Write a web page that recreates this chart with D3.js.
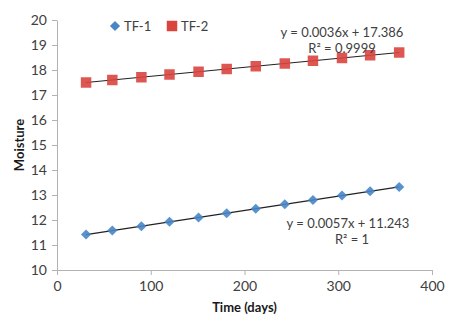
<!DOCTYPE html>
<html>
<head>
<meta charset="utf-8">
<script src="https://cdn.jsdelivr.net/npm/d3@7"></script>
<style>
  body { margin: 0; background: #fff; }
  svg text { font-family: Lato, "Open Sans", sans-serif; }
</style>
</head>
<body>
<div id="root"></div>
<script>
const days = [31, 59, 90, 120, 151, 181, 212, 243, 273, 304, 334, 365];
const tf1 = [11.42, 11.58, 11.75, 11.93, 12.10, 12.27, 12.45, 12.63, 12.80, 12.98, 13.15, 13.32];
const tf2 = [17.50, 17.60, 17.71, 17.82, 17.93, 18.04, 18.15, 18.26, 18.37, 18.48, 18.59, 18.70];
const xTicks = [0, 100, 200, 300, 400];
const yTicks = [10, 11, 12, 13, 14, 15, 16, 17, 18, 19, 20];

const width = 459;
const height = 324;
const margin = { top: 20, left: 57, right: 27, bottom: 54 };

const svg = d3.select("#root")
  .append("svg")
  .attr("width", width)
  .attr("height", height);

const x = d3.scaleLinear().domain([0, 400]).range([margin.left, width - margin.right]);
const y = d3.scaleLinear().domain([10, 20]).range([height - margin.bottom, margin.top]);

// Axes
const xAxis = d3.axisBottom(x).tickValues(xTicks).tickSize(5).tickSizeOuter(0).tickPadding(6);
const yAxis = d3.axisLeft(y).tickValues(yTicks).tickSize(5).tickSizeOuter(0).tickPadding(5);

const gx = svg.append("g")
  .attr("transform", `translate(0,${y(10)})`)
  .call(xAxis);
const gy = svg.append("g")
  .attr("transform", `translate(${x(0)},0)`)
  .call(yAxis);

[gx, gy].forEach((g) => {
  g.selectAll("path, line").attr("stroke", "#b3b3b3");
  g.selectAll("text").attr("fill", "#404040").attr("font-size", 14);
});

svg.append("text")
  .attr("transform", `translate(24,${y(15)}) rotate(-90)`)
  .attr("text-anchor", "middle")
  .attr("font-weight", "bold")
  .attr("font-size", 13)
  .attr("fill", "#1a1a1a")
  .text("Moisture");

svg.append("text")
  .attr("x", x(200))
  .attr("y", 312)
  .attr("text-anchor", "middle")
  .attr("font-weight", "bold")
  .attr("font-size", 13)
  .attr("fill", "#1a1a1a")
  .text("Time (days)");

// Linear fit for trendlines
function fit(xs, ys) {
  const mx = d3.mean(xs), my = d3.mean(ys);
  const b = d3.sum(xs, (v, i) => (v - mx) * (ys[i] - my)) / d3.sum(xs, (v) => (v - mx) ** 2);
  return { slope: b, icpt: my - b * mx };
}

const series = [
  { name: "TF-1", values: tf1, color: "#4a86c6", size: 52, rot: 45 },
  { name: "TF-2", values: tf2, color: "#d9443f", size: 110, rot: 0 }
];

series.forEach((s) => {
  const f = fit(days, s.values);
  const x0 = d3.min(days), x1 = d3.max(days);
  svg.append("line")
    .attr("x1", x(x0)).attr("y1", y(f.slope * x0 + f.icpt))
    .attr("x2", x(x1)).attr("y2", y(f.slope * x1 + f.icpt))
    .attr("stroke", "#222")
    .attr("stroke-width", 1.2);
});

series.forEach((s) => {
  svg.append("g")
    .selectAll("path")
    .data(days.map((d, i) => [d, s.values[i]]))
    .join("path")
    .attr("transform", (d) => `translate(${x(d[0])},${y(d[1])}) rotate(${s.rot})`)
    .attr("d", d3.symbol().type(d3.symbolSquare).size(s.size))
    .attr("fill", s.color)
    .attr("opacity", 0.9);
});

// Trendline equations
const notes = [
  { text: "y = 0.0036x + 17.386", x: 342, y: 37 },
  { text: "R\u00b2 = 0.9999", x: 342, y: 53 },
  { text: "y = 0.0057x + 11.243", x: 348, y: 228 },
  { text: "R\u00b2 = 1", x: 352, y: 244 }
];
svg.selectAll("text.note")
  .data(notes)
  .join("text")
  .attr("class", "note")
  .attr("x", (d) => d.x)
  .attr("y", (d) => d.y)
  .attr("text-anchor", "middle")
  .attr("font-size", 13)
  .attr("fill", "#404040")
  .text((d) => d.text);

// Legend
const legend = svg.append("g");
const legendPos = [115, 172];
series.forEach((s, i) => {
  legend.append("path")
    .attr("transform", `translate(${legendPos[i]},26) rotate(${s.rot})`)
    .attr("d", d3.symbol().type(d3.symbolSquare).size(s.size))
    .attr("fill", s.color);
  legend.append("text")
    .attr("x", legendPos[i] + 9)
    .attr("y", 30.5)
    .attr("font-size", 13)
    .attr("fill", "#404040")
    .text(s.name);
});
</script>
</body>
</html>
